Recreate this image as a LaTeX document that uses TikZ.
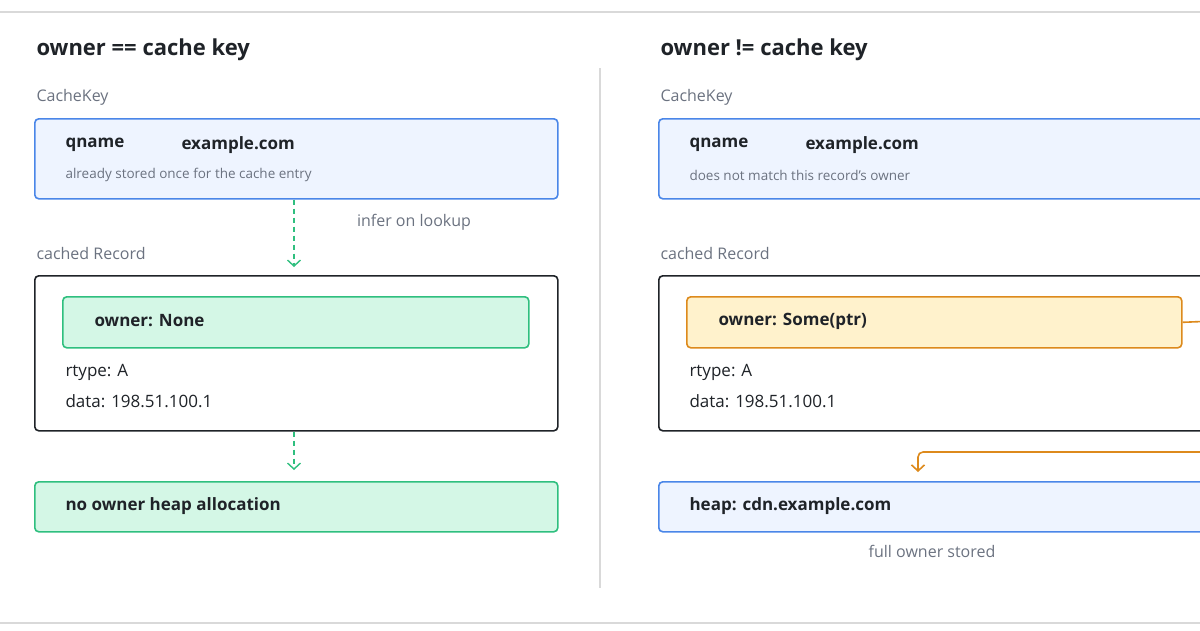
\documentclass[tikz,border=0pt]{standalone}
\usepackage{fontspec}
\setmainfont{Open Sans}[BoldFont={* Bold}]
\usetikzlibrary{arrows.meta,positioning}
\definecolor{keyblue}{HTML}{4A86E8}
\definecolor{keyfill}{HTML}{EEF4FF}
\definecolor{okgreen}{HTML}{2FBF7F}
\definecolor{okfill}{HTML}{D4F7E6}
\definecolor{ptrorange}{HTML}{DD8A1C}
\definecolor{ptrfill}{HTML}{FFF2CC}
\definecolor{ink}{HTML}{1F2328}
\definecolor{muted}{HTML}{6B7280}
\definecolor{rule}{HTML}{D9D9D9}
\tikzset{
  box/.style={draw, line width=1.6pt, rounded corners=4pt, anchor=north west, inner sep=0pt},
  keybox/.style={box, draw=keyblue, fill=keyfill},
  okbox/.style={box, draw=okgreen, fill=okfill},
  ptrbox/.style={box, draw=ptrorange, fill=ptrfill},
  recbox/.style={box, draw=ink, fill=white},
  title/.style={anchor=west, text=ink, font=\fontsize{22}{26}\selectfont\bfseries},
  caption/.style={anchor=west, text=muted, font=\fontsize{16}{20}\selectfont},
  small/.style={anchor=west, text=muted, font=\fontsize{13.5}{17}\selectfont},
  strong/.style={anchor=west, text=ink, font=\fontsize{17}{21}\selectfont\bfseries},
  plain/.style={anchor=west, text=ink, font=\fontsize{17}{21}\selectfont},
  lookup/.style={draw=okgreen, line width=1.4pt, dash pattern=on 5pt off 4pt, -{Straight Barb[length=6pt,width=13pt,line width=1.4pt]}},
  pointer/.style={draw=ptrorange, line width=1.6pt, rounded corners=5pt, -{Straight Barb[length=6pt,width=13pt,line width=1.6pt]}}
}
\begin{document}
\begin{tikzpicture}[x=1pt, y=-1pt]
  \useasboundingbox (0,0) rectangle (1200,630);
  \clip (0,0) rectangle (1200,630);

  % frame
  \draw[rule, line width=1.2pt] (0,12) -- (1200,12);
  \draw[rule, line width=1.2pt] (0,623) -- (1200,623);
  \draw[rule, line width=1.2pt] (600,68) -- (600,588);

  % left panel
  \node[title]   (t1)   at (33,50)  {owner == cache key};
  \node[caption] (ck1)  at (33,97)  {CacheKey};
  \node[keybox, minimum width=523pt, minimum height=80pt] (key1) at (34,118) {};
  \node[strong]  (qn1)  at (62,145) {qname};
  \node[strong]  (qv1)  at (178,145) {example.com};
  \node[small]   (qs1)  at (62,175) {already stored once for the cache entry};
  \node[caption] (cr1)  at (33,253) {cached Record};
  \node[recbox, minimum width=523pt, minimum height=155pt] (rec1) at (34,275) {};
  \node[okbox, minimum width=466pt, minimum height=51pt] (own1) at (62,296) {};
  \node[strong]  at (91,321) {owner: None};
  \node[plain]   at (62,372) {rtype: A};
  \node[plain]   at (62,401) {data: 198.51.100.1};
  \node[okbox, minimum width=523pt, minimum height=50pt] (heap1) at (34,481) {};
  \node[strong]  at (62,506) {no owner heap allocation};
  \node[caption, anchor=center] (inf) at (414,222) {infer on lookup};

  \coordinate (mid1) at (294,0);
  \draw[lookup] (key1.south -| mid1) -- ([yshift=8pt]rec1.north -| mid1);
  \draw[lookup] (rec1.south -| mid1) -- ([yshift=11pt]heap1.north -| mid1);

  % right panel
  \node[title]   (t2)   at (657,50)  {owner != cache key};
  \node[caption] (ck2)  at (657,97)  {CacheKey};
  \node[keybox, minimum width=560pt, minimum height=80pt] (key2) at (658,118) {};
  \node[strong]  (qn2)  at (686,145) {qname};
  \node[strong]  (qv2)  at (802,145) {example.com};
  \node[small]   (qs2)  at (686,175) {does not match this record's owner};
  \node[caption] (cr2)  at (657,253) {cached Record};
  \node[recbox, minimum width=560pt, minimum height=155pt] (rec2) at (658,275) {};
  \node[ptrbox, minimum width=495pt, minimum height=51pt] (own2) at (686,296) {};
  \node[strong]  at (715,321) {owner: Some(ptr)};
  \node[plain]   at (686,372) {rtype: A};
  \node[plain]   at (686,401) {data: 198.51.100.1};
  \node[keybox, minimum width=560pt, minimum height=50pt] (heap2) at (658,481) {};
  \node[strong]  at (686,506) {heap: cdn.example.com};
  \node[small, anchor=center, font=\fontsize{16}{19}\selectfont] (full) at (932,551) {full owner stored};

  \coordinate (turn) at (1215,321);
  \coordinate (bend) at (918,452);
  \draw[pointer] (own2.east) -- (turn) |- (bend) -- ([yshift=9pt]heap2.north -| bend);
\end{tikzpicture}
\end{document}
